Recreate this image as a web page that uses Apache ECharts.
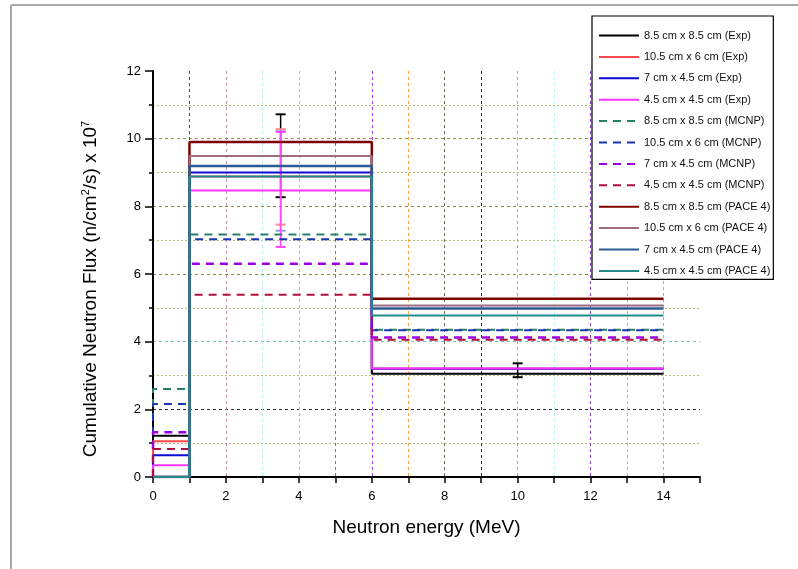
<!DOCTYPE html>
<html>
<head>
<meta charset="utf-8">
<title>Cumulative Neutron Flux</title>
<script src="https://cdn.jsdelivr.net/npm/echarts@6/dist/echarts.min.js"></script>
<style>
  html, body { margin: 0; padding: 0; background: #fff; }
  #chart { width: 798px; height: 569px; }
</style>
</head>
<body>
<div id="chart"></div>
<script>
	// bin edges of the neutron energy histogram (MeV)
	var binEdges = [0, 1, 6, 14];

	// flux per bin (x 10^7 n/cm2/s)
	var exp88   = [1.22, 9.49, 3.05];
	var exp105  = [1.06, 8.88, 3.20];
	var exp7    = [0.64, 9.00, 3.20];
	var exp45   = [0.35, 8.47, 3.21];
	var mcnp88  = [2.60, 7.17, 4.35];
	var mcnp105 = [2.16, 7.03, 4.34];
	var mcnp7   = [1.32, 6.30, 4.12];
	var mcnp45  = [0.83, 5.39, 4.06];
	var pace88  = [0, 9.90, 5.27];
	var pace105 = [0, 9.49, 5.07];
	var pace7   = [0, 9.19, 4.98];
	var pace45  = [0, 8.88, 4.77];

	// error bars: x position, low, high
	var errX    = [3.5, 3.5, 3.5, 3.5, 10];
	var errLow  = [8.27, 7.46, 7.28, 6.80, 2.95];
	var errHigh = [10.72, 10.28, 10.22, 10.20, 3.36];
	var errColor = ['#000000', '#ff8a8a', '#8fa0e8', '#ff44ff', '#000000'];

	var xTicks = [0, 2, 4, 6, 8, 10, 12, 14];
	var yTicks = [0, 2, 4, 6, 8, 10, 12];

	var fontName = '"Liberation Sans", Arial, sans-serif';

	// histogram step path from the bin values
	function stepData(vals) {
		var pts = [[binEdges[0], 0]];
		for (var i = 0; i < vals.length; i++) {
			pts.push([binEdges[i], vals[i]]);
			pts.push([binEdges[i + 1], vals[i]]);
		}
		return pts;
	}

	function stepSeries(name, vals, color, dashed, width) {
		return {
			name: name,
			type: 'line',
			symbol: 'none',
			showSymbol: false,
			data: stepData(vals),
			color: color,
			lineStyle: { color: color, width: width || 2, type: dashed ? [8, 6] : 'solid' },
			emphasis: { disabled: true }
		};
	}

	var errData = [];
	for (var i = 0; i < errX.length; i++) {
		errData.push([errX[i], errLow[i], errHigh[i]]);
	}

	var myChart = echarts.init(document.getElementById('chart'));

	var option = {
		animation: false,
		backgroundColor: '#fff',
		textStyle: { fontFamily: fontName },
		// gray frame top / left like the source figure
		graphic: [
			{ type: 'line', shape: { x1: 11, y1: 5, x2: 798, y2: 5 }, style: { stroke: '#a8a8a8', lineWidth: 2 } },
			{ type: 'line', shape: { x1: 11, y1: 5, x2: 11, y2: 569 }, style: { stroke: '#a8a8a8', lineWidth: 2 } }
		],
		grid: { left: 153, right: 98, top: 71, bottom: 92 },
		legend: {
			orient: 'vertical',
			left: 592,
			top: 16,
			padding: [14, 3, 3, 6],
			itemWidth: 40,
			itemHeight: 12,
			itemGap: 10.4,
			itemStyle: { opacity: 0 },
			backgroundColor: '#fff',
			borderColor: '#000',
			borderWidth: 1.2,
			textStyle: { fontSize: 11, color: '#111', fontFamily: fontName },
			data: [
				'8.5 cm x 8.5 cm (Exp)', '10.5 cm x 6 cm (Exp)', '7 cm x 4.5 cm (Exp)', '4.5 cm x 4.5 cm (Exp)',
				'8.5 cm x 8.5 cm (MCNP)', '10.5 cm x 6 cm (MCNP)', '7 cm x 4.5 cm (MCNP)', '4.5 cm x 4.5 cm (MCNP)',
				'8.5 cm x 8.5 cm (PACE 4)', '10.5 cm x 6 cm (PACE 4)', '7 cm x 4.5 cm (PACE 4)', '4.5 cm x 4.5 cm (PACE 4)'
			]
		},
		xAxis: {
			type: 'value',
			min: 0,
			max: 15,
			interval: 1,
			name: 'Neutron energy (MeV)',
			nameLocation: 'middle',
			nameGap: 41,
			nameTextStyle: { fontSize: 19, color: '#000', fontFamily: fontName },
			axisLine: { lineStyle: { color: '#000', width: 2 } },
			axisTick: { inside: false, length: 6, lineStyle: { color: '#000', width: 1.5 } },
			axisLabel: {
				margin: 13,
				fontSize: 13,
				color: '#000',
				formatter: function (v) { return xTicks.indexOf(v) >= 0 ? String(v) : ''; }
			},
			splitLine: {
				show: true,
				lineStyle: {
					type: [3, 3],
					width: 1,
					color: ['transparent', '#3a5a5a', '#c090b0', '#b8eeee', '#80d4d4', '#ff3399', '#a040ff', '#ffa040',
						'#6a6a50', '#2a2a50', '#a8a8a8', '#b8f4f4', '#8a40c8', '#ffa040', '#c8a878', 'transparent']
				}
			}
		},
		yAxis: {
			type: 'value',
			min: 0,
			max: 12,
			interval: 2,
			name: 'Cumulative Neutron Flux (n/cm{sup|2}/s) x 10{sup|7}',
			nameLocation: 'middle',
			nameGap: 52,
			nameTextStyle: {
				fontSize: 19,
				color: '#000',
				fontFamily: fontName,
				padding: [0, 30, 0, 0],
				rich: {
					sup: { fontSize: 11, color: '#000', fontFamily: fontName, padding: [0, 0, 10, 0] }
				}
			},
			axisLine: { lineStyle: { color: '#000', width: 2 } },
			axisTick: { inside: false, length: 8, lineStyle: { color: '#000', width: 1.5 } },
			minorTick: { show: true, splitNumber: 2, length: 4, lineStyle: { color: '#000', width: 1.5 } },
			axisLabel: {
				margin: 12,
				fontSize: 13,
				color: '#000',
				formatter: function (v) { return yTicks.indexOf(v) >= 0 ? String(v) : ''; }
			},
			splitLine: {
				show: true,
				lineStyle: {
					type: [3, 3],
					width: 1,
					color: ['transparent', '#333333', '#70c8b8', '#8a8a30', '#8a8a30', '#a09040', 'transparent']
				}
			},
			minorSplitLine: {
				show: true,
				lineStyle: { type: [2, 2], width: 1, color: '#bcbc80' }
			}
		},
		series: [
			stepSeries('8.5 cm x 8.5 cm (Exp)', exp88, '#000000', false),
			stepSeries('10.5 cm x 6 cm (Exp)', exp105, '#ff4a4a', false),
			stepSeries('7 cm x 4.5 cm (Exp)', exp7, '#0a0ad8', false),
			stepSeries('4.5 cm x 4.5 cm (Exp)', exp45, '#ff33ff', false),
			stepSeries('8.5 cm x 8.5 cm (MCNP)', mcnp88, '#24806a', true),
			stepSeries('10.5 cm x 6 cm (MCNP)', mcnp105, '#1a36b0', true),
			stepSeries('7 cm x 4.5 cm (MCNP)', mcnp7, '#9a00e0', true, 2.5),
			stepSeries('4.5 cm x 4.5 cm (MCNP)', mcnp45, '#b0103c', true),
			stepSeries('8.5 cm x 8.5 cm (PACE 4)', pace88, '#800000', false, 2.5),
			stepSeries('10.5 cm x 6 cm (PACE 4)', pace105, '#9a6e80', false),
			stepSeries('7 cm x 4.5 cm (PACE 4)', pace7, '#2c5a92', false, 2.5),
			stepSeries('4.5 cm x 4.5 cm (PACE 4)', pace45, '#208a8a', false),
			{
				// experimental error bars
				name: 'err',
				type: 'custom',
				data: errData,
				renderItem: function (params, api) {
					var x = api.value(0);
					var lo = api.coord([x, api.value(1)]);
					var hi = api.coord([x, api.value(2)]);
					var c = errColor[params.dataIndex];
					var w = 5;
					return {
						type: 'group',
						children: [
							{ type: 'line', shape: { x1: lo[0], y1: lo[1], x2: hi[0], y2: hi[1] }, style: { stroke: c, lineWidth: 1.5 } },
							{ type: 'line', shape: { x1: lo[0] - w, y1: lo[1], x2: lo[0] + w, y2: lo[1] }, style: { stroke: c, lineWidth: 2 } },
							{ type: 'line', shape: { x1: hi[0] - w, y1: hi[1], x2: hi[0] + w, y2: hi[1] }, style: { stroke: c, lineWidth: 2 } }
						]
					};
				}
			}
		]
	};

	myChart.setOption(option);
</script>
</body>
</html>
